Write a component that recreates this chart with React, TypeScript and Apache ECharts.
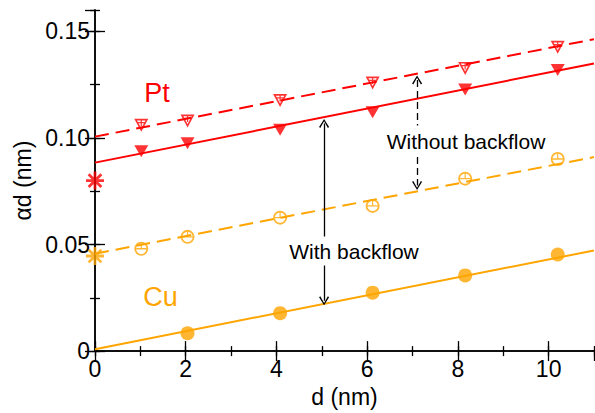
import React, { useEffect, useRef } from "react";
import * as echarts from "echarts";

// ---- data ----
const xPoints = [1.02, 2.04, 4.08, 6.12, 8.16, 10.2];
const ptWithout = [0.1059, 0.1079, 0.1175, 0.1257, 0.1326, 0.1425];
const ptWith = [0.0937, 0.0975, 0.1038, 0.112, 0.1227, 0.1318];
const cuWithout = [0.048, 0.0536, 0.0626, 0.0681, 0.0809, 0.0901];
const xCuWith = [2.04, 4.08, 6.12, 8.16, 10.2];
const cuWith = [0.0084, 0.0178, 0.0274, 0.0355, 0.0453];

const fitX = [0, 11];
const fitPtWithout = [0.1006, 0.1463];
const fitPtWith = [0.0884, 0.1349];
const fitCuWithout = [0.0457, 0.091];
const fitCuWith = [0.0009, 0.0472];

const bulkX = [0];
const bulkPt = [0.08];
const bulkCu = [0.0446];

const arrowWithX = 5.05;
const arrowWithY = [0.1068, 0.0236];
const arrowWithoutX = 7.1;
const arrowWithoutY = [0.1272, 0.0777];

const xTickLabels = ["0", "2", "4", "6", "8", "10"];
const yTickLabels = ["0", "0.05", "0.10", "0.15"];

const RED = "#ff0000";
const ORANGE = "#ffa500";
const FONT = "'Liberation Sans', Arial, Helvetica, sans-serif";

const triOpen =
  "path://M-7,-6 L7,-6 L0,7 Z M-4.2,-4.3 L0,3.5 L4.2,-4.3 Z M-3.3,-2.8 L3.3,-2.8 L3.3,-1.6 L-3.3,-1.6 Z M-0.6,-4.3 L0.6,-4.3 L0.6,1.5 L-0.6,1.5 Z";
const circOpen =
  "path://M-7,0 A7,7 0 1,1 7,0 A7,7 0 1,1 -7,0 Z M-5.2,0 A5.2,5.2 0 1,0 5.2,0 A5.2,5.2 0 1,0 -5.2,0 Z M-5.1,-0.7 L5.1,-0.7 L5.1,0.7 L-5.1,0.7 Z M-0.6,-5.1 L0.6,-5.1 L0.6,-0.7 L-0.6,-0.7 Z";
const star =
  "path://M-1.4,-9 L1.4,-9 L1.4,9 L-1.4,9 Z M-9,-1.4 L9,-1.4 L9,1.4 L-9,1.4 Z M-5.37,-7.35 L7.35,5.37 L5.37,7.35 L-7.35,-5.37 Z M-7.35,5.37 L5.37,-7.35 L7.35,-5.37 L-5.37,7.35 Z";
const chevron = "path://M0,0 L5,8 L3.8,8.9 L0,2.2 L-3.8,8.9 L-5,8 Z";

const pairs = (xs: number[], ys: number[]) => xs.map((x, i) => [x, ys[i]]);

export default function App() {
  const ref = useRef<HTMLDivElement>(null);
  useEffect(() => {
    if (!ref.current) return;
    const chart = echarts.init(ref.current, undefined, { renderer: "svg" });
    const black = "#000";
    const baseX = {
      type: "value",
      min: 0,
      max: 11,
      splitLine: { show: false },
    };
    const baseY = {
      type: "value",
      min: 0,
      max: 0.16,
      splitLine: { show: false },
    };
    const line = { show: true, lineStyle: { color: black, width: 1.5 } };
    const noLine = { show: false };
    const tick = (len: number) => ({ show: true, inside: true, length: len, lineStyle: { color: black, width: 1.3 } });

    const option: any = {
      animation: false,
      backgroundColor: "#fff",
      grid: { left: 95, right: 1, top: 10, bottom: 53, containLabel: false },
      xAxis: [
        {
          ...baseX,
          position: "bottom",
          interval: 2,
          axisLine: line,
          axisTick: tick(10),
          axisLabel: {
            show: true,
            color: black,
            fontSize: 23,
            fontFamily: FONT,
            margin: 6,
            showMaxLabel: false,
            formatter: (v: number) => {
              const i = Math.round(v / 2);
              return Math.abs(v - i * 2) < 1e-6 && xTickLabels[i] !== undefined ? xTickLabels[i] : "";
            },
          },
          name: "d (nm)",
          nameLocation: "middle",
          nameGap: 29,
          nameTextStyle: { color: black, fontSize: 23, fontFamily: FONT },
        },
        { ...baseX, position: "bottom", interval: 1, axisLine: noLine, axisTick: tick(5), axisLabel: { show: false } },
        { ...baseX, position: "top", interval: 2, axisLine: line, axisTick: tick(10), axisLabel: { show: false } },
        { ...baseX, position: "top", interval: 1, axisLine: noLine, axisTick: tick(5), axisLabel: { show: false } },
      ],
      yAxis: [
        {
          ...baseY,
          position: "left",
          interval: 0.05,
          axisLine: line,
          axisTick: tick(10),
          axisLabel: {
            show: true,
            color: black,
            fontSize: 23,
            fontFamily: FONT,
            margin: 5,
            padding: [5, 0, 0, 0],
            showMaxLabel: false,
            formatter: (v: number) => {
              const i = Math.round(v / 0.05);
              return Math.abs(v - i * 0.05) < 1e-6 && yTickLabels[i] !== undefined ? yTickLabels[i] : "";
            },
          },
          name: "αd (nm)",
          nameLocation: "middle",
          nameGap: 58,
          nameTextStyle: { color: black, fontSize: 23, fontFamily: FONT },
        },
        { ...baseY, position: "left", interval: 0.025, axisLine: noLine, axisTick: tick(5), axisLabel: { show: false } },
        { ...baseY, position: "right", interval: 0.05, axisLine: line, axisTick: tick(10), axisLabel: { show: false } },
        { ...baseY, position: "right", interval: 0.025, axisLine: noLine, axisTick: tick(5), axisLabel: { show: false } },
      ],
      series: [
        {
          type: "line",
          data: pairs(fitX, fitPtWithout),
          showSymbol: false,
          symbol: "none",
          lineStyle: { color: RED, width: 2, type: [14, 7] },
          silent: true,
        },
        {
          type: "line",
          data: pairs(fitX, fitPtWith),
          showSymbol: false,
          symbol: "none",
          lineStyle: { color: RED, width: 2 },
          silent: true,
          markLine: {
            silent: true,
            label: { show: false },
            symbol: [chevron, chevron],
            symbolSize: [10, 9],
            lineStyle: { color: black, width: 1.3, type: "solid" },
            data: [
              [
                { coord: [arrowWithX, arrowWithY[0]] },
                { coord: [arrowWithX, arrowWithY[1]] },
              ],
            ],
          },
        },
        {
          type: "line",
          data: pairs(fitX, fitCuWithout),
          showSymbol: false,
          symbol: "none",
          lineStyle: { color: ORANGE, width: 2, type: [14, 7] },
          silent: true,
          markLine: {
            silent: true,
            label: { show: false },
            symbol: [chevron, chevron],
            symbolSize: [10, 9],
            lineStyle: { color: black, width: 1.3, type: [7, 4] },
            data: [
              [
                { coord: [arrowWithoutX, arrowWithoutY[0]] },
                { coord: [arrowWithoutX, arrowWithoutY[1]] },
              ],
            ],
          },
        },
        {
          type: "line",
          data: pairs(fitX, fitCuWith),
          showSymbol: false,
          symbol: "none",
          lineStyle: { color: ORANGE, width: 2 },
          silent: true,
        },
        {
          type: "scatter",
          data: pairs(xPoints, ptWithout),
          symbol: triOpen,
          symbolSize: [14, 13],
          itemStyle: { color: RED },
          clip: false,
          z: 5,
        },
        {
          type: "scatter",
          data: pairs(xPoints, ptWith),
          symbol: "triangle",
          symbolRotate: 180,
          symbolSize: [14, 12],
          itemStyle: { color: RED },
          clip: false,
          z: 5,
        },
        {
          type: "scatter",
          data: pairs(xPoints, cuWithout),
          symbol: circOpen,
          symbolSize: 14,
          itemStyle: { color: ORANGE },
          clip: false,
          z: 5,
        },
        {
          type: "scatter",
          data: pairs(xCuWith, cuWith),
          symbol: "circle",
          symbolSize: 14,
          itemStyle: { color: ORANGE },
          clip: false,
          z: 5,
        },
        {
          type: "scatter",
          data: pairs(bulkX, bulkPt),
          symbol: star,
          symbolSize: 18,
          itemStyle: { color: RED },
          clip: false,
          z: 6,
        },
        {
          type: "scatter",
          data: pairs(bulkX, bulkCu),
          symbol: star,
          symbolSize: 18,
          itemStyle: { color: ORANGE },
          clip: false,
          z: 6,
        },
      ],
      graphic: [
        {
          type: "text",
          x: 157,
          y: 92.5,
          z: 100,
          style: { text: "Pt", fill: RED, font: `27px ${FONT}`, align: "center", verticalAlign: "middle" },
        },
        {
          type: "text",
          x: 160.5,
          y: 297,
          z: 100,
          style: { text: "Cu", fill: ORANGE, font: `27px ${FONT}`, align: "center", verticalAlign: "middle" },
        },
        {
          type: "text",
          x: 466,
          y: 141,
          z: 100,
          style: {
            text: "Without backflow",
            fill: black,
            font: `21px ${FONT}`,
            align: "center",
            verticalAlign: "middle",
            backgroundColor: "#fff",
            padding: [5, 2],
          },
        },
        {
          type: "text",
          x: 354,
          y: 251,
          z: 100,
          style: {
            text: "With backflow",
            fill: black,
            font: `21px ${FONT}`,
            align: "center",
            verticalAlign: "middle",
            backgroundColor: "#fff",
            padding: [4, 2],
          },
        },
      ],
    };
    chart.setOption(option);
    return () => chart.dispose();
  }, []);
  return <div ref={ref} style={{ width: 595, height: 413, position: "absolute", left: 0, top: 0 }} />;
}
